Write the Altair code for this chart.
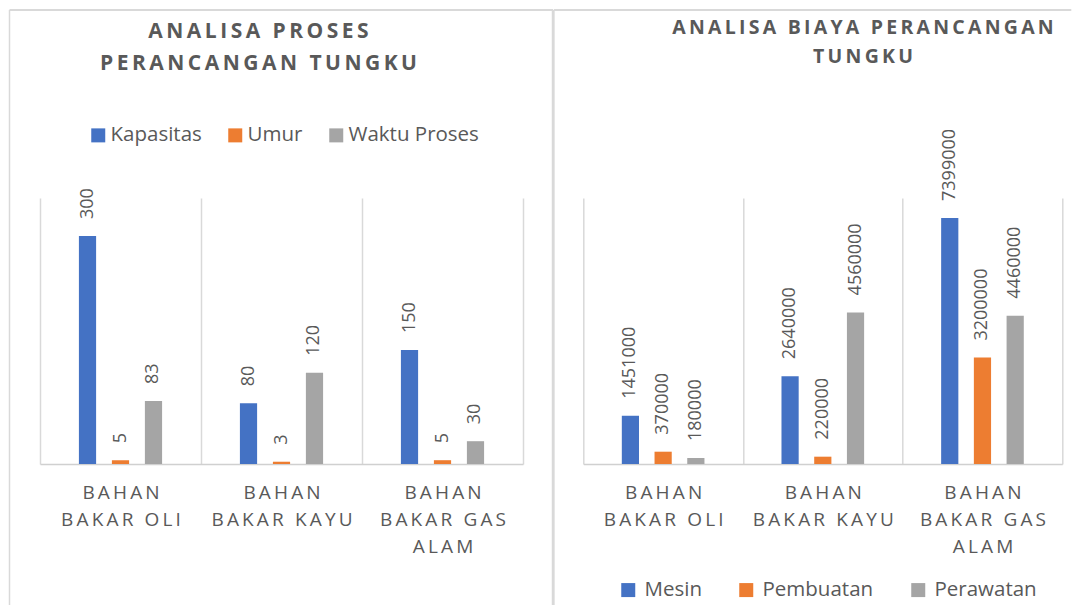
import altair as alt
import pandas as pd

# ---------------- data ----------------
categories = ["Bahan Bakar Oli", "Bahan Bakar Kayu", "Bahan Bakar Gas Alam"]
x_tick_labels = [["BAHAN", "BAKAR OLI"], ["BAHAN", "BAKAR KAYU"], ["BAHAN", "BAKAR GAS", "ALAM"]]

proses_series = ["Kapasitas", "Umur", "Waktu Proses"]
kapasitas = [300, 80, 150]
umur = [5, 3, 5]
waktu_proses = [83, 120, 30]

biaya_series = ["Mesin", "Pembuatan", "Perawatan"]
mesin = [1451000, 2640000, 7399000]
pembuatan = [370000, 220000, 3200000]
perawatan = [180000, 4560000, 4460000]

title_proses = ["ANALISA PROSES", "PERANCANGAN TUNGKU"]
title_biaya = ["ANALISA BIAYA PERANCANGAN", "TUNGKU"]

colors = ["#4472C4", "#ED7D31", "#A5A5A5"]
TEXT = "#595959"
LINE = "#d9d9d9"
FONT = "Open Sans"


def spaced(s):
    return "\u2009".join(s)


def long_df(series, cols):
    rows = []
    for s, vals in zip(series, cols):
        for c, v in zip(categories, vals):
            rows.append({"kategori": c, "seri": s, "nilai": v})
    return pd.DataFrame(rows)


df_proses = long_df(proses_series, [kapasitas, umur, waktu_proses])
df_biaya = long_df(biaya_series, [mesin, pembuatan, perawatan])

parts = []
for cat, lines in zip(categories, x_tick_labels):
    arr = "[" + ",".join("'" + spaced(l) + "'" for l in lines) + "]"
    parts.append(f"datum.value == '{cat}' ? {arr} : ")
label_expr = "".join(parts) + "datum.label"

dummy = pd.DataFrame({"k": [0]})


def panel(df, series, ymax, width, height, legend_kw, title_lines, title_kw, frame):
    x_axis = alt.Axis(
        title=None, labelExpr=label_expr, labelAngle=0, labelFontSize=19,
        labelFont=FONT, labelColor=TEXT, labelLineHeight=27, labelPadding=19,
        labelLimit=0, ticks=False, domainColor="#d0d0d0", domainWidth=1.5,
        grid=True, gridColor=LINE, gridWidth=1.5, tickBand="extent",
    )
    base = alt.Chart(df).encode(
        x=alt.X("kategori:N", sort=categories,
                scale=alt.Scale(paddingInner=0, paddingOuter=0), axis=x_axis),
        xOffset=alt.XOffset("seri:N", sort=series,
                            scale=alt.Scale(paddingInner=0, paddingOuter=0.94)),
        y=alt.Y("nilai:Q", scale=alt.Scale(domain=[0, ymax], nice=False), axis=None),
    )
    bars = base.mark_bar(width=17.2).encode(
        color=alt.Color("seri:N", sort=series,
                        scale=alt.Scale(domain=series, range=colors),
                        legend=alt.Legend(
                            orient="none", direction="horizontal", columns=3,
                            title=None, symbolType="square", symbolSize=196,
                            symbolStrokeWidth=0, labelFontSize=20.5, labelFont=FONT,
                            labelColor=TEXT, padding=0, **legend_kw))
    )
    labels = base.mark_text(
        angle=270, align="left", baseline="middle", dx=17, fontSize=18,
        font=FONT, color=TEXT,
    ).encode(text=alt.Text("nilai:Q", format="d"))

    title = alt.Chart(dummy).mark_text(
        align="center", baseline="top", fontWeight="bold", font=FONT, color=TEXT,
        fontSize=title_kw["size"], lineHeight=title_kw["lh"],
    ).encode(
        x=alt.value(title_kw["x"]), y=alt.value(title_kw["y"]),
        text=alt.value([spaced(t) for t in title_lines]),
    )

    layers = [bars, labels, title]
    fx0, fx1, fy0, fy1 = frame["x0"], frame["x1"], frame["y0"], frame["y1"]
    layers.append(alt.Chart(dummy).mark_rule(color=LINE, strokeWidth=2).encode(
        x=alt.value(fx0), x2=alt.value(fx1), y=alt.value(fy0)))
    layers.append(alt.Chart(dummy).mark_rule(color=LINE, strokeWidth=1.5).encode(
        x=alt.value(fx0), y=alt.value(fy0), y2=alt.value(fy1)))
    if frame.get("right") is not None:
        layers.append(alt.Chart(dummy).mark_rule(color=LINE, strokeWidth=2.5).encode(
            x=alt.value(frame["right"]), y=alt.value(fy0), y2=alt.value(fy1)))
    return alt.layer(*layers).properties(width=width, height=height)


H = 266
left = panel(
    df_proses, proses_series, 350, 483, H,
    dict(legendX=48, legendY=-73, labelOffset=2, columnPadding=23),
    title_proses, dict(size=21, lh=31.6, x=218.5, y=-177),
    dict(x0=-30.5, x1=513, y0=-188, y1=407, right=513),
)
right = panel(
    df_biaya, biaya_series, 8000000, 479, H,
    dict(legendX=34.7, legendY=381.7, labelOffset=6, columnPadding=34),
    title_biaya, dict(size=19.5, lh=29, x=279.7, y=-179),
    dict(x0=-29.5, x1=488, y0=-188, y1=407, right=None),
)

chart = alt.hconcat(left, right, spacing=60.3, bounds="flush").resolve_scale(
    x="independent", y="independent", color="independent", xOffset="independent"
).resolve_legend(color="independent").configure_view(stroke=None).properties(
    padding=0, background="white"
)

chart.save("out.html", embed_options={"renderer": "svg", "actions": False})
